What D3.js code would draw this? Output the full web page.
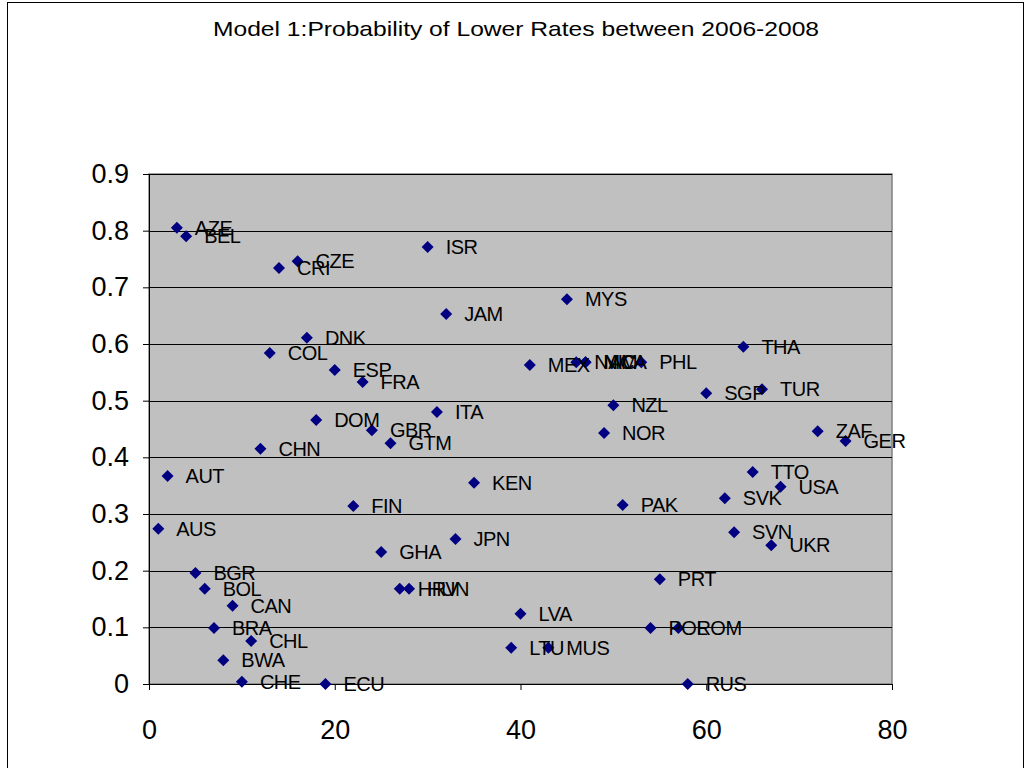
<!DOCTYPE html>
<html><head><meta charset="utf-8">
<script src="https://cdn.jsdelivr.net/npm/d3@7"></script>
<style>body{margin:0;background:#fff;}svg{display:block;font-family:"Liberation Sans",Arial,sans-serif;}</style>
</head><body>
<script>
const countries = ["AZE","BEL","CRI","CZE","ISR","JAM","MYS","DNK","COL","ESP","FRA","MEX","NAM","NIC","MCA","PHL","THA","SGP","TUR","NZL","ITA","DOM","GBR","GTM","CHN","NOR","ZAF","GER","AUT","KEN","TTO","USA","SVK","PAK","FIN","AUS","SVN","UKR","GHA","JPN","BGR","BOL","HRV","HUN","PRT","CAN","LVA","BRA","POL","ROM","CHL","LTU","MUS","BWA","CHE","ECU","RUS"];
const rank = [3,4,14,16,30,32,45,17,13,20,23,41,46,47,47,53,64,60,66,50,31,18,24,26,12,49,72,75,2,35,65,68,62,51,22,1,63,67,25,33,5,6,27,28,55,9,40,7,54,57,11,39,43,8,10,19,58];
const prob = [0.805,0.79,0.734,0.746,0.771,0.653,0.679,0.611,0.584,0.554,0.533,0.563,0.568,0.568,0.568,0.568,0.595,0.513,0.52,0.492,0.48,0.466,0.448,0.425,0.415,0.443,0.446,0.429,0.367,0.355,0.374,0.348,0.328,0.316,0.314,0.274,0.268,0.245,0.233,0.256,0.196,0.168,0.168,0.168,0.185,0.138,0.124,0.099,0.099,0.099,0.076,0.064,0.064,0.042,0.004,0.0,0.0];
const xTicks = [0,20,40,60,80];
const yTicks = [0,0.1,0.2,0.3,0.4,0.5,0.6,0.7,0.8,0.9];
const title = "Model 1:Probability of Lower Rates between 2006-2008";

const W=1031,H=768;
const svg=d3.select("body").append("svg").attr("width",W).attr("height",H);
const L=149,R=892,T=174,B=684;
const x=d3.scaleLinear().domain([0,80]).range([L,R]);
const y=d3.scaleLinear().domain([0,0.9]).range([B,T]);

svg.append("rect").attr("x",7.5).attr("y",2.5).attr("width",1016).attr("height",820).attr("fill","#fff").attr("stroke","#000").attr("stroke-width",1);

svg.append("text").attr("x",516).attr("y",36).attr("text-anchor","middle").attr("font-size",21)
 .attr("textLength",606).attr("lengthAdjust","spacingAndGlyphs").attr("fill","#000").text(title);

svg.append("rect").attr("x",L).attr("y",T).attr("width",R-L).attr("height",B-T).attr("fill","#c0c0c0").attr("stroke","#808080").attr("stroke-width",1.5);

svg.append("g").selectAll("line").data(yTicks.filter(d=>d>0)).join("line")
 .attr("x1",L).attr("x2",R).attr("y1",d=>Math.round(y(d))+0.5).attr("y2",d=>Math.round(y(d))+0.5).attr("stroke","#000").attr("stroke-width",1);

const yAxis=svg.append("g").attr("transform",`translate(${L},0)`).call(d3.axisLeft(y).tickValues(yTicks).tickFormat(d=>d===0?"0":d3.format(".1f")(d)).tickSize(6).tickPadding(14));
const xAxis=svg.append("g").attr("transform",`translate(0,${B})`).call(d3.axisBottom(x).tickValues(xTicks).tickSize(6).tickPadding(30));
[yAxis,xAxis].forEach(g=>{g.select(".domain").attr("stroke","#000");g.selectAll(".tick line").attr("stroke","#000");g.selectAll("text").attr("font-size",27).attr("fill","#000").attr("font-family","'Liberation Sans',Arial,sans-serif");});

const pts=countries.map((c,i)=>({c,x:rank[i],y:prob[i]}));
const g=svg.append("g");
g.selectAll("path").data(pts).join("path")
 .attr("d",d3.symbol(d3.symbolSquare,72))
 .attr("transform",d=>`translate(${x(d.x)},${y(d.y)}) rotate(45)`)
 .attr("fill","#000080");
g.selectAll("text").data(pts).join("text")
 .attr("x",d=>x(d.x)+18).attr("y",d=>y(d.y)+7)
 .attr("font-size",20).attr("letter-spacing",-0.5).attr("fill","#000").text(d=>d.c);
</script>
</body></html>
